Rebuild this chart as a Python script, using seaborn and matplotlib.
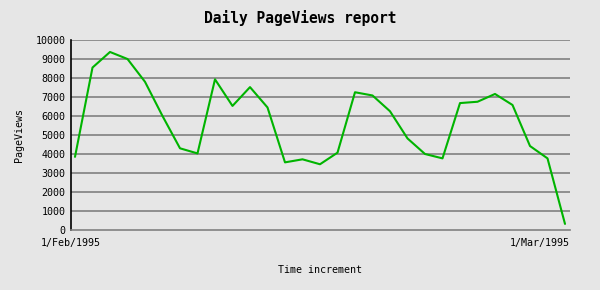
import matplotlib
matplotlib.use("Agg")
import matplotlib.pyplot as plt
import seaborn as sns
import pandas as pd

days = list(range(29))
pageviews = [3850, 8550, 9370, 9000, 7800, 6000, 4300, 4030, 7930, 6530,
             7520, 6450, 3560, 3720, 3460, 4070, 7250, 7080, 6250, 4820,
             4000, 3770, 6680, 6750, 7160, 6580, 4420, 3770, 320]
yticks = list(range(0, 10001, 1000))
xtick_labels = ["1/Feb/1995", "1/Mar/1995"]

sns.set_theme(style="white")
plt.rcParams['font.family'] = ['DejaVu Sans Mono']
plt.rcParams['text.color'] = 'black'
plt.rcParams['axes.labelcolor'] = 'black'
plt.rcParams['xtick.color'] = 'black'
plt.rcParams['ytick.color'] = 'black'
bg = "#e6e6e6"
fig = plt.figure(figsize=(6, 2.9), dpi=100, facecolor=bg)
ax = fig.add_axes([71/600, 60/290, 499/600, 190/290])
ax.set_facecolor(bg)

df = pd.DataFrame({"day": days, "views": pageviews})
for t in yticks[1:]:
    ax.axhline(t, color="#808080", lw=1.2, zorder=1)
sns.lineplot(data=df, x="day", y="views", ax=ax, color="#00b400", lw=1.5, zorder=3)

x0, x1 = -4/17.5, 28 + 5/17.5
ax.set_xlim(x0, x1)
ax.set_ylim(0, 10000)
ax.set_yticks(yticks)
ax.set_yticklabels([str(t) for t in yticks], fontsize=7.2)
ax.set_xticks([x0, x1])
labs = ax.set_xticklabels(xtick_labels, fontsize=7.2)
labs[1].set_ha("right")
ax.tick_params(axis="both", length=0, pad=4)
ax.tick_params(axis="x", pad=6)

for s in ["top", "right"]:
    ax.spines[s].set_visible(False)
ax.spines["left"].set_color("black")
ax.spines["left"].set_linewidth(1.2)
ax.spines["bottom"].set_color("#808080")
ax.spines["bottom"].set_linewidth(1.2)

ax.set_xlabel("Time increment", fontsize=7.2, labelpad=12)
ax.set_ylabel("PageViews", fontsize=7.2, labelpad=8)
fig.text(0.5, 1 - 18/290, "Daily PageViews report", ha="center", va="center",
         fontsize=10.5, fontweight="bold")

fig.savefig("out.png", dpi=100, facecolor=bg)
